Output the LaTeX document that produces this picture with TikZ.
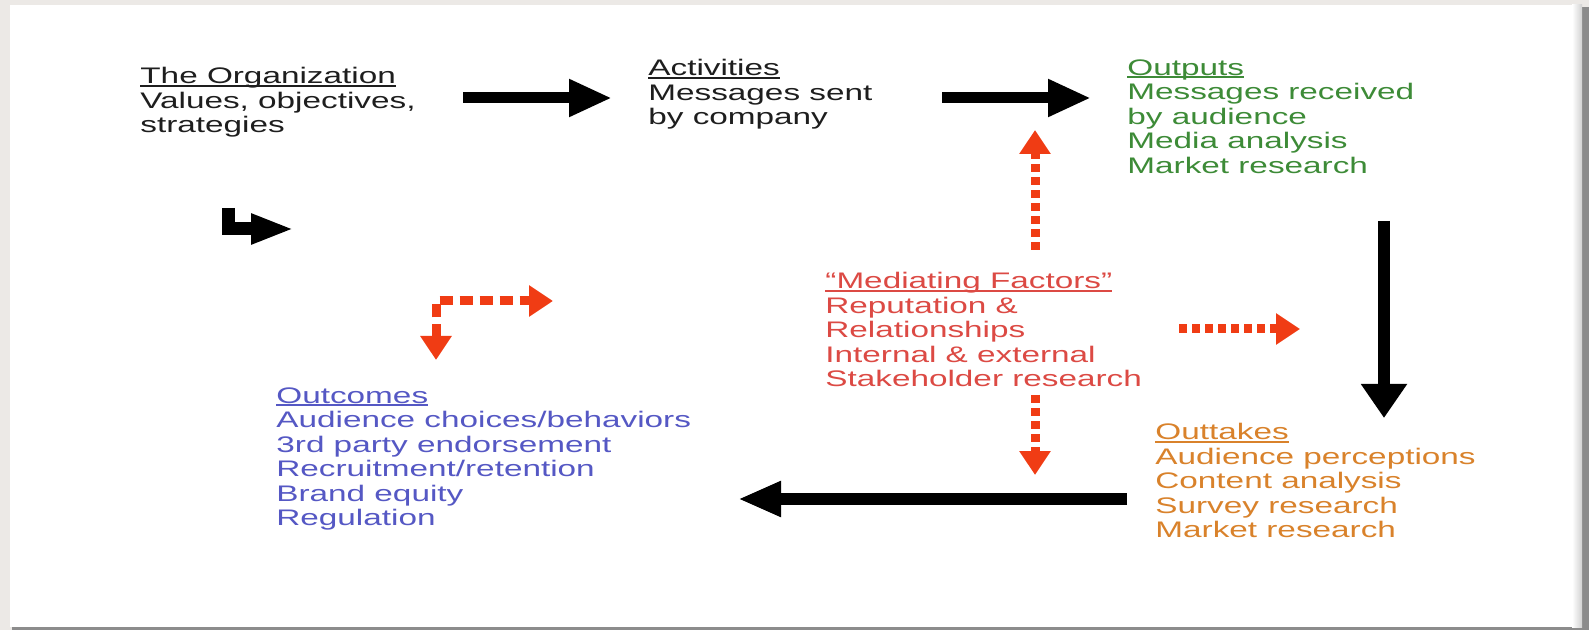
\documentclass[tikz,border=0pt]{standalone}
\usepackage{fontspec}
\setmainfont[FakeStretch=1.48]{Liberation Sans}
\usetikzlibrary{arrows.meta}
\definecolor{cInk}{HTML}{1E1E1E}
\definecolor{cOutp}{HTML}{3D8B37}
\definecolor{cMedi}{HTML}{DC4A44}
\definecolor{cOutc}{HTML}{5558C4}
\definecolor{cOutt}{HTML}{D9822B}
\definecolor{cDot}{HTML}{F03C14}
\definecolor{cEdge}{HTML}{ECE9E6}
\definecolor{cShade}{HTML}{8C8C8C}
% underlined heading line, rule sits just under the baseline
\newcommand\hdr[1]{\setbox0\hbox{#1}\rlap{\rule[-1.4pt]{\wd0}{0.8pt}}\box0}
\tikzset{
  >=Triangle,
  txt/.style   ={anchor=north west,align=left,inner sep=0pt,
                 font=\fontsize{11.25}{12.25}\selectfont},
  bar/.style   ={draw=black,line width=5.5pt,
                 -{Triangle[length=21.5pt,width=17.5pt]}},
  barv/.style  ={draw=black,line width=6pt,
                 -{Triangle[length=17pt,width=22pt]}},
  bent/.style  ={draw=black,line width=6.5pt,line join=miter,
                 -{Triangle[length=21.5pt,width=14pt]}},
  dotar/.style ={draw=cDot,line width=4.5pt,dash pattern=on 4pt off 2.5pt,
                 -{Triangle[length=12pt,width=15pt]}},
}
\begin{document}
\begin{tikzpicture}[x=0.5pt,y=-0.5pt]
\useasboundingbox (0,0) rectangle (1589,630);
\fill[cEdge] (0,0) rectangle (1589,630);
\fill[cShade] (12,7) rectangle (1589,630);
\fill[white] (10,5) rectangle (1582,627);
\shade[left color=white,right color=black!18] (1572,5) rectangle (1582,627);

\node[txt,text=cInk] (org) at (140,67)
  {\hdr{The Organization}\\Values, objectives,\\strategies};
\node[txt,text=cInk] (act) at (648,59)
  {\hdr{Activities}\\Messages sent\\by company};
\node[txt,text=cOutp] (outp) at (1127,59)
  {\hdr{Outputs}\\Messages received\\by audience\\Media analysis\\Market research};
\node[txt,text=cMedi] (medi) at (825,272)
  {\hdr{“Mediating Factors”}\\Reputation \&\\Relationships\\Internal \& external\\Stakeholder research};
\node[txt,text=cOutc] (outc) at (276,387)
  {\hdr{Outcomes}\\Audience choices/behaviors\\3rd party endorsement\\Recruitment/retention\\Brand equity\\Regulation};
\node[txt,text=cOutt] (outt) at (1155,423)
  {\hdr{Outtakes}\\Audience perceptions\\Content analysis\\Survey research\\Market research};

\coordinate (orgR) at (463,98);   \coordinate (actL) at (612,98);
\coordinate (actR) at (942,98);   \coordinate (outpL) at (1091,98);
\coordinate (bentA) at (228,208); \coordinate (bentB) at (294,229);
\coordinate (outpB) at (1384,221);\coordinate (outtT) at (1384,418);
\coordinate (outtL) at (1127,499);\coordinate (outcR) at (738,499);
\coordinate (mediU) at (1035,250);\coordinate (upTip) at (1035,130);
\coordinate (mediD) at (1035,395);\coordinate (dnTip) at (1035,475);
\coordinate (mediR) at (1179,329);\coordinate (rtTip) at (1300,329);
\coordinate (elbV) at (436,360);  \coordinate (elbH) at (553,301);

\draw[bar] (orgR) -- (actL);
\draw[bar] (actR) -- (outpL);
\draw[bent] (bentA) |- (bentB);
\draw[barv] (outpB) -- (outtT);
\draw[bar,line width=6pt,-{Triangle[length=21.5pt,width=16.5pt]}] (outtL) -- (outcR);

\draw[dotar] (mediU) -- (upTip);
\draw[dotar] (mediD) -- (dnTip);
\draw[dotar] (mediR) -- (rtTip);
\draw[dotar,dash pattern=on 6.5pt off 3.5pt,{Triangle[length=12pt,width=15pt]}-{Triangle[length=12pt,width=15pt]}]
  (elbV) |- (elbH);
\end{tikzpicture}
\end{document}
